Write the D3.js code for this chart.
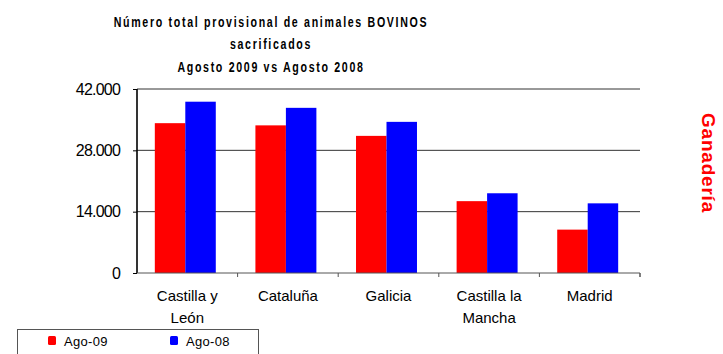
<!DOCTYPE html>
<html>
<head>
<meta charset="utf-8">
<script src="https://cdn.jsdelivr.net/npm/d3@7"></script>
<style>
  html, body { margin: 0; padding: 0; background: #fff; }
  svg { display: block; font-family: "Liberation Sans", Arial, sans-serif; }
</style>
</head>
<body>
<svg id="chart" width="723" height="354"></svg>
<script>
// Regions (two-line labels split with "\n")
const categories = ["Castilla y\nLeón", "Cataluña", "Galicia", "Castilla la\nMancha", "Madrid"];
const ago09 = [34200, 33700, 31300, 16400, 9900];
const ago08 = [39100, 37700, 34500, 18200, 15900];
const seriesNames = ["Ago-09", "Ago-08"];
const seriesColors = ["#ff0000", "#0000ff"];
const yTicks = [0, 14000, 28000, 42000];
const titleLines = ["Número total provisional de animales BOVINOS", "sacrificados", "Agosto 2009 vs Agosto 2008"];

const svg = d3.select("#chart");
const plot = { left: 137, right: 640, top: 89, bottom: 273 };

const x = d3.scaleBand().domain(categories).range([plot.left, plot.right]).paddingInner(0).paddingOuter(0);
const xs = d3.scaleBand().domain(seriesNames).range([0, x.bandwidth()]).paddingInner(0).paddingOuter(0.65);
const y = d3.scaleLinear().domain([0, 42000]).range([plot.bottom, plot.top]);

const fmt = v => d3.format(",")(v).replace(/,/g, ".");

// Gridlines
svg.append("g").selectAll("line").data(yTicks.filter(d => d > 0)).join("line")
  .attr("x1", plot.left).attr("x2", plot.right)
  .attr("y1", d => y(d)).attr("y2", d => y(d))
  .attr("stroke", "#333").attr("stroke-width", 1);

// Bars
const rows = categories.map((c, i) => ({ c, vals: [ago09[i], ago08[i]] }));
const groups = svg.append("g").selectAll("g").data(rows).join("g")
  .attr("transform", d => `translate(${x(d.c) - 2},0)`);
groups.selectAll("rect").data(d => d.vals.map((v, j) => ({ v, s: seriesNames[j], j }))).join("rect")
  .attr("x", d => xs(d.s))
  .attr("width", xs.bandwidth())
  .attr("y", d => y(d.v))
  .attr("height", d => y(0) - y(d.v))
  .attr("fill", d => seriesColors[d.j]);

// Y axis
const yAxis = d3.axisLeft(y).tickValues(yTicks).tickFormat(fmt).tickSize(4).tickPadding(13);
const gy = svg.append("g").attr("transform", `translate(${plot.left},0)`).call(yAxis);
gy.select(".domain").attr("stroke", "#000").attr("stroke-width", 1.6).attr("d", `M0,${plot.top}V${plot.bottom}`);
gy.selectAll(".tick line").attr("stroke", "#000");
gy.selectAll(".tick text").attr("font-size", 16).attr("fill", "#000")
  .attr("letter-spacing", "-0.8px").attr("font-family", "Liberation Sans, Arial, sans-serif");

// X axis
const xAxis = d3.axisBottom(x).tickSize(4).tickFormat("");
const gx = svg.append("g").attr("transform", `translate(0,${plot.bottom})`).call(xAxis);
gx.select(".domain").attr("stroke", "#555").attr("d", `M${plot.left},0H${plot.right}V4`);
gx.selectAll(".tick").attr("transform", d => `translate(${x(d) + x.bandwidth()},0)`);
gx.selectAll(".tick line").attr("stroke", "#555");

// Category labels
const lbl = svg.append("g").selectAll("text").data(categories).join("text")
  .attr("x", d => x(d) + x.bandwidth() / 2)
  .attr("y", 301)
  .attr("text-anchor", "middle")
  .attr("font-size", 15)
  .attr("fill", "#000");
lbl.selectAll("tspan").data(d => d.split("\n")).join("tspan")
  .attr("x", function () { return d3.select(this.parentNode).attr("x"); })
  .attr("dy", (d, i) => i === 0 ? 0 : 22)
  .text(d => d);

// Title: condensed, letter-spaced bold lines
svg.append("g").selectAll("text").data(titleLines).join("text")
  .attr("transform", (d, i) => `translate(271,${[27, 49, 72][i]}) scale(0.76,1)`)
  .attr("text-anchor", "middle")
  .attr("font-size", 14)
  .attr("font-weight", "bold")
  .attr("letter-spacing", "2.2px")
  .attr("fill", "#000")
  .text(d => d);

// Legend
const legend = svg.append("g");
legend.append("rect").attr("x", 17.5).attr("y", 329.5).attr("width", 241).attr("height", 30)
  .attr("fill", "#fff").attr("stroke", "#555");
const items = legend.selectAll("g").data(seriesNames).join("g")
  .attr("transform", (d, i) => `translate(${[48, 170][i]},0)`);
items.append("rect").attr("x", 0).attr("y", 336).attr("width", 8).attr("height", 9).attr("rx", 1.5)
  .attr("fill", (d, i) => seriesColors[i]);
items.append("text").attr("x", 16).attr("y", 346).attr("font-size", 13).attr("fill", "#000")
  .attr("letter-spacing", "0.3px").text(d => d);

// Side label
svg.append("text")
  .attr("transform", "translate(702,163) rotate(90)")
  .attr("text-anchor", "middle")
  .attr("font-size", 19)
  .attr("font-weight", "bold")
  .attr("letter-spacing", "0.8px")
  .attr("fill", "#ff0000")
  .text("Ganadería");
</script>
</body>
</html>
